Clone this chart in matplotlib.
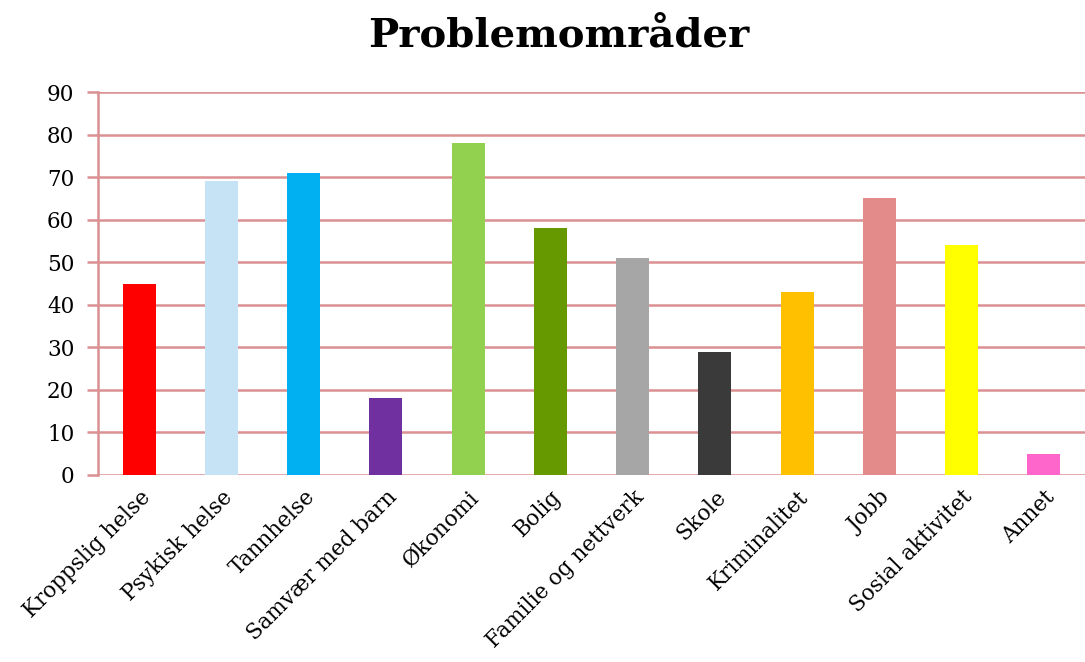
import matplotlib
matplotlib.use("Agg")
import matplotlib.pyplot as plt

# data
categories = ["Kroppslig helse", "Psykisk helse", "Tannhelse", "Samvær med barn",
              "Økonomi", "Bolig", "Familie og nettverk", "Skole", "Kriminalitet",
              "Jobb", "Sosial aktivitet", "Annet"]
values = [45, 69, 71, 18, 78, 58, 51, 29, 43, 65, 54, 5]
colors = ["#FF0000", "#C6E3F5", "#00B0F0", "#7030A0", "#92D050", "#669900",
          "#A6A6A6", "#3A3A3A", "#FFC000", "#E38A8A", "#FFFF00", "#FF66CC"]

plt.rcParams['font.family'] = ['DejaVu Serif']
grid_col = "#DB9092"

fig = plt.figure(figsize=(10.85, 6.62), dpi=100)
ax = fig.add_axes([0.0903, 0.2825, 0.9097, 0.5785])

x = range(len(categories))
ax.bar(x, values, width=0.4, color=colors, zorder=3)

ax.set_xlim(-0.5, len(categories) - 0.5)
ax.set_ylim(0, 90)
ax.set_yticks(range(0, 91, 10))
ax.yaxis.grid(True, color=grid_col, linewidth=1.8, zorder=0)

for s in ["top", "right", "bottom"]:
    ax.spines[s].set_visible(False)
ax.spines["left"].set_color(grid_col)
ax.spines["left"].set_linewidth(1.8)
ax.tick_params(axis="y", colors=grid_col, length=8, width=1.8, labelcolor="black",
               labelsize=15.5, pad=9)
ax.tick_params(axis="x", length=0, labelsize=15.5, pad=8)
ax.set_xticks(list(x))
ax.set_xticklabels(categories, rotation=45, ha="right", rotation_mode="anchor")

fig.suptitle("Problemområder", fontsize=29, fontweight="bold", x=0.515, y=0.975)

fig.savefig("out.png", dpi=100)
